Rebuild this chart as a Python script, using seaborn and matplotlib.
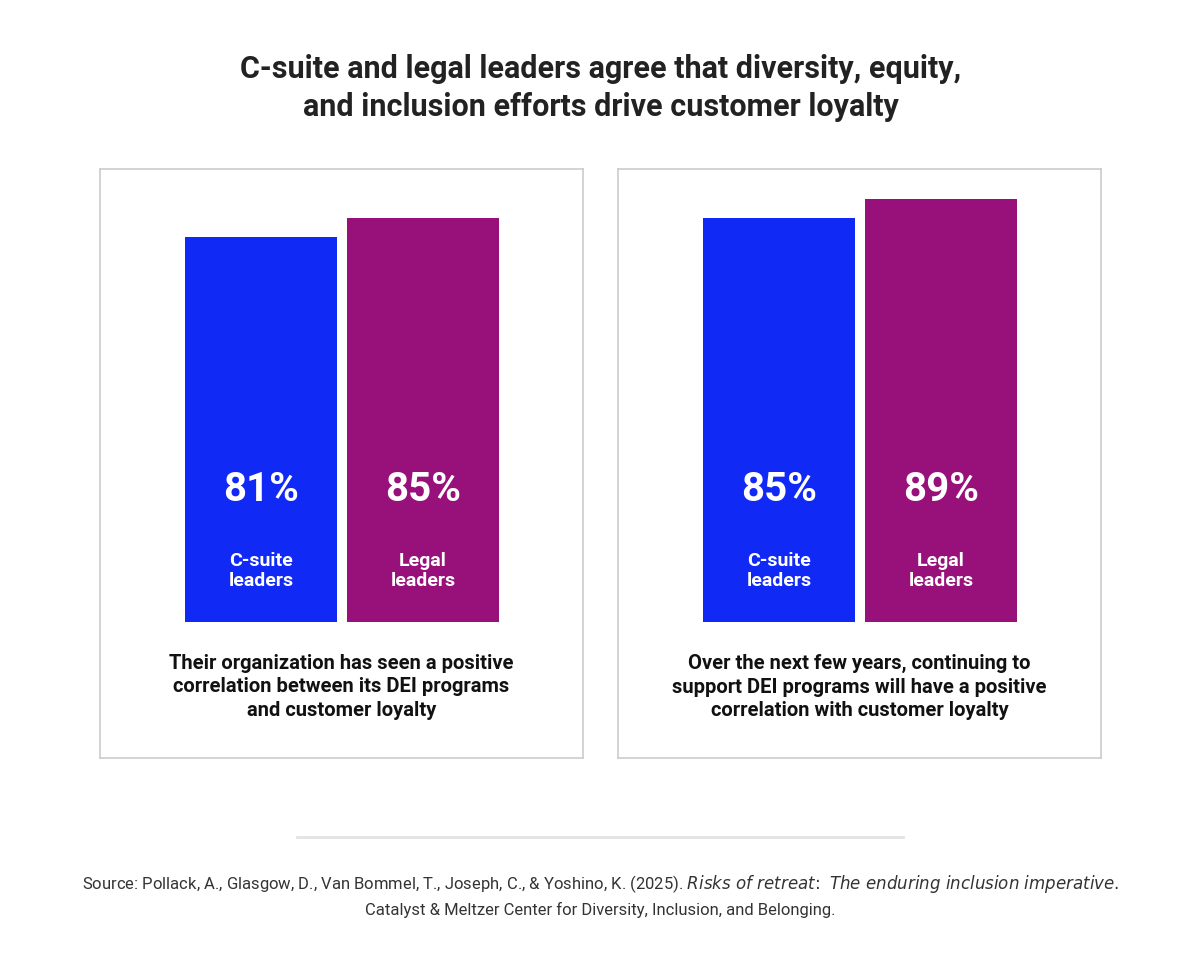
import matplotlib
matplotlib.use("Agg")
import matplotlib.pyplot as plt
import seaborn as sns
import pandas as pd

groups = ["C-suite\nleaders", "Legal\nleaders"]
panel1_values = [81, 85]
panel2_values = [85, 89]
captions = ["Their organization has seen a positive\ncorrelation between its DEI programs\nand customer loyalty",
            "Over the next few years, continuing to\nsupport DEI programs will have a positive\ncorrelation with customer loyalty"]
colors = ["#1029F5", "#98117B"]

W, H = 1201, 970
fig = plt.figure(figsize=(W/100, H/100), dpi=100)
plt.rcParams["font.family"] = "Roboto"

def fx(x): return x / W
def fy(y): return 1 - y / H

fig.text(0.5, fy(88), "C-suite and legal leaders agree that diversity, equity,\nand inclusion efforts drive customer loyalty",
         ha="center", va="center", fontsize=22, fontweight="bold", color="#222222", linespacing=1.3)

for i, (vals, cap) in enumerate(zip([panel1_values, panel2_values], captions)):
    left = 100 + i * 518
    box = fig.add_axes([fx(left), fy(759), fx(483), (759 - 170) / H])
    box.set_xticks([]); box.set_yticks([])
    for s in box.spines.values():
        s.set_color("#cccccc"); s.set_linewidth(1.2)
    ax = fig.add_axes([fx(left), fy(623), fx(483), (623 - 170) / H])
    ax.patch.set_alpha(0)
    df = pd.DataFrame({"group": groups, "value": vals})
    sns.barplot(data=df, x="group", y="value", hue="group", palette=colors,
                width=0.938, legend=False, ax=ax, saturation=1)
    ax.set_xlim(-0.994, 1.987)
    ax.set_ylim(0, 453 / 4.755)
    ax.axis("off")
    for j, (g, v) in enumerate(zip(groups, vals)):
        ax.text(j, 28, f"{v}%", ha="center", va="center", color="white", fontsize=29, fontweight="bold")
        ax.text(j, 11, g, ha="center", va="center", color="white", fontsize=14, fontweight="bold", linespacing=1.15)
    fig.text(fx(left + 241.5), fy(687), cap, ha="center", va="center", fontsize=14.5,
             fontweight="bold", color="#111111", linespacing=1.3)

fig.add_artist(plt.Line2D([fx(297), fx(903)], [fy(838), fy(838)], color="#e3e3e3", lw=2))
fig.text(0.5, fy(884), "Source: Pollack, A., Glasgow, D., Van Bommel, T., Joseph, C., & Yoshino, K. (2025). "
         r"$\it{Risks\ of\ retreat\!:\ The\ enduring\ inclusion\ imperative.}$",
         ha="center", va="center", fontsize=12, color="#333333")
fig.text(0.5, fy(910), "Catalyst & Meltzer Center for Diversity, Inclusion, and Belonging.",
         ha="center", va="center", fontsize=12, color="#333333")
fig.savefig("out.png", dpi=100, facecolor="white")
